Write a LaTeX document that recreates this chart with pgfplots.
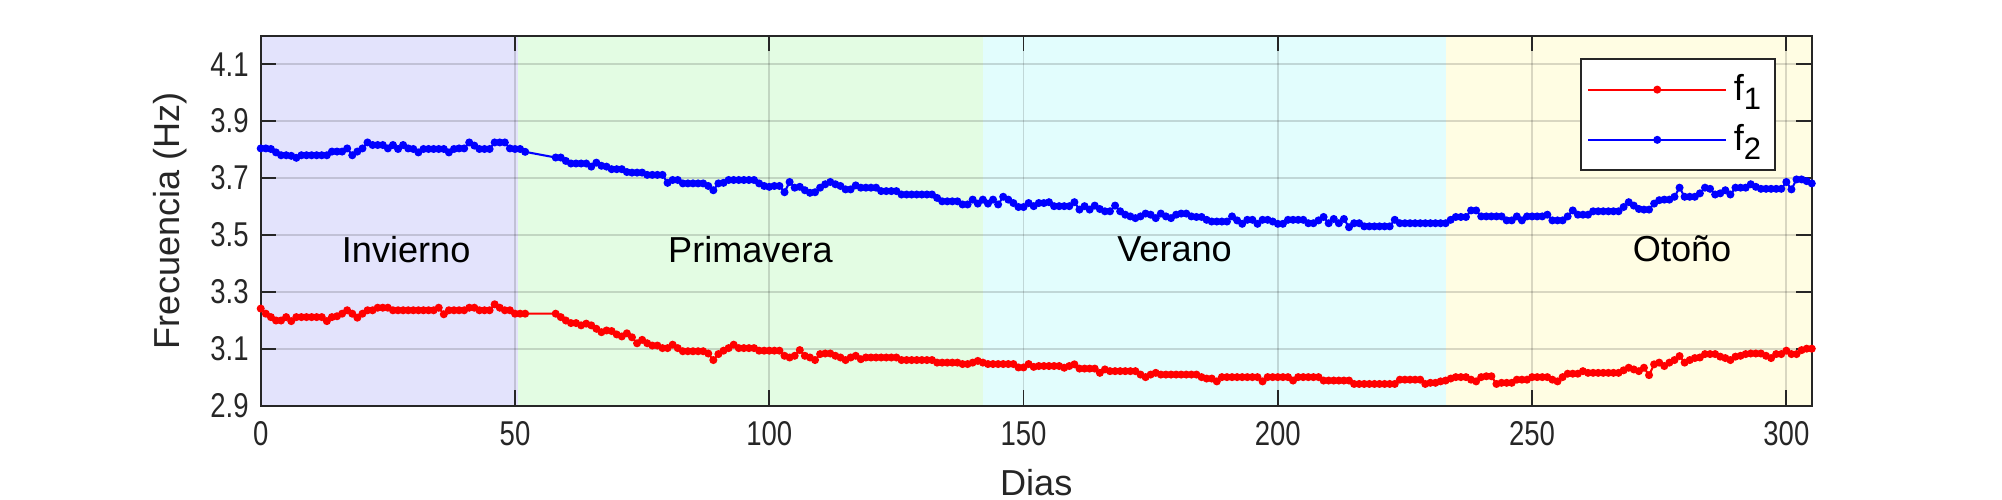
\documentclass[border=0pt]{standalone}
\usepackage{fontspec}
\setmainfont{Liberation Sans}
\newfontfamily\tickfont[FakeStretch=0.8]{Liberation Sans}
\usepackage{pgfplots}
\usepackage{pgfplotstable}
\pgfplotsset{compat=1.18}

\definecolor{cinv}{RGB}{227,227,252}
\definecolor{cpri}{RGB}{227,252,227}
\definecolor{cver}{RGB}{226,253,253}
\definecolor{coto}{RGB}{255,253,227}
\definecolor{axgray}{RGB}{38,38,38}

% d = dia, f1 y f2 en Hz
\pgfplotstableread{
d f1 f2
0 3.241 3.804
1 3.223 3.804
2 3.211 3.802
3 3.199 3.790
4 3.199 3.780
5 3.211 3.780
6 3.197 3.778
7 3.211 3.771
8 3.211 3.780
9 3.211 3.780
10 3.211 3.780
11 3.211 3.780
12 3.211 3.780
13 3.197 3.780
14 3.211 3.793
15 3.214 3.793
16 3.223 3.793
17 3.235 3.804
18 3.223 3.780
19 3.209 3.793
20 3.223 3.804
21 3.235 3.825
22 3.235 3.816
23 3.244 3.816
24 3.244 3.816
25 3.244 3.804
26 3.235 3.816
27 3.235 3.802
28 3.235 3.816
29 3.235 3.804
30 3.235 3.802
31 3.235 3.790
32 3.235 3.802
33 3.235 3.802
34 3.235 3.802
35 3.244 3.802
36 3.221 3.802
37 3.235 3.790
38 3.235 3.802
39 3.235 3.804
40 3.235 3.804
41 3.244 3.825
42 3.244 3.814
43 3.235 3.802
44 3.235 3.802
45 3.235 3.802
46 3.256 3.825
47 3.244 3.825
48 3.235 3.825
49 3.235 3.804
50 3.223 3.802
51 3.223 3.802
52 3.223 3.792
58 3.223 3.772
59 3.211 3.772
60 3.199 3.760
61 3.190 3.751
62 3.190 3.751
63 3.182 3.751
64 3.188 3.751
65 3.182 3.740
66 3.170 3.754
67 3.158 3.743
68 3.164 3.740
69 3.162 3.731
70 3.150 3.731
71 3.143 3.731
72 3.154 3.721
73 3.140 3.719
74 3.119 3.719
75 3.131 3.719
76 3.119 3.711
77 3.111 3.711
78 3.111 3.711
79 3.102 3.711
80 3.102 3.683
81 3.114 3.693
82 3.102 3.693
83 3.091 3.681
84 3.091 3.681
85 3.091 3.681
86 3.091 3.681
87 3.091 3.681
88 3.083 3.672
89 3.060 3.657
90 3.081 3.681
91 3.093 3.683
92 3.102 3.693
93 3.114 3.693
94 3.102 3.693
95 3.102 3.693
96 3.102 3.693
97 3.102 3.693
98 3.093 3.681
99 3.093 3.672
100 3.093 3.669
101 3.093 3.672
102 3.093 3.672
103 3.075 3.650
104 3.069 3.686
105 3.075 3.666
106 3.095 3.669
107 3.075 3.657
108 3.069 3.648
109 3.060 3.650
110 3.081 3.666
111 3.083 3.678
112 3.083 3.686
113 3.075 3.678
114 3.069 3.672
115 3.060 3.660
116 3.069 3.660
117 3.075 3.674
118 3.063 3.666
119 3.069 3.666
120 3.069 3.666
121 3.069 3.666
122 3.069 3.654
123 3.069 3.654
124 3.069 3.654
125 3.069 3.654
126 3.060 3.642
127 3.060 3.642
128 3.060 3.642
129 3.060 3.642
130 3.060 3.642
131 3.060 3.642
132 3.060 3.642
133 3.051 3.630
134 3.051 3.618
135 3.051 3.618
136 3.051 3.618
137 3.051 3.618
138 3.046 3.607
139 3.046 3.607
140 3.051 3.624
141 3.057 3.610
142 3.051 3.624
143 3.046 3.610
144 3.046 3.624
145 3.046 3.607
146 3.046 3.634
147 3.046 3.624
148 3.046 3.612
149 3.034 3.598
150 3.034 3.598
151 3.046 3.612
152 3.036 3.601
153 3.039 3.612
154 3.039 3.612
155 3.039 3.615
156 3.039 3.601
157 3.039 3.601
158 3.033 3.601
159 3.039 3.601
160 3.045 3.615
161 3.030 3.589
162 3.030 3.601
163 3.030 3.589
164 3.030 3.603
165 3.015 3.591
166 3.027 3.583
167 3.021 3.583
168 3.021 3.603
169 3.021 3.583
170 3.021 3.571
171 3.021 3.565
172 3.021 3.559
173 3.009 3.565
174 3.000 3.575
175 3.009 3.571
176 3.015 3.559
177 3.009 3.575
178 3.009 3.565
179 3.009 3.559
180 3.009 3.571
181 3.009 3.575
182 3.009 3.575
183 3.009 3.565
184 3.009 3.563
185 3.000 3.563
186 2.995 3.553
187 2.995 3.547
188 2.985 3.547
189 3.000 3.547
190 3.000 3.547
191 3.000 3.565
192 3.000 3.551
193 3.000 3.539
194 3.000 3.553
195 3.000 3.553
196 3.000 3.539
197 2.985 3.553
198 3.000 3.553
199 3.000 3.547
200 3.000 3.539
201 3.000 3.539
202 3.000 3.553
203 2.988 3.553
204 3.000 3.553
205 3.000 3.553
206 3.000 3.541
207 3.000 3.541
208 3.000 3.551
209 2.988 3.563
210 2.988 3.541
211 2.988 3.556
212 2.988 3.541
213 2.988 3.556
214 2.988 3.527
215 2.976 3.541
216 2.976 3.541
217 2.976 3.530
218 2.976 3.530
219 2.976 3.530
220 2.976 3.530
221 2.976 3.530
222 2.976 3.530
223 2.976 3.553
224 2.991 3.541
225 2.991 3.541
226 2.991 3.541
227 2.991 3.541
228 2.991 3.541
229 2.976 3.541
230 2.980 3.541
231 2.980 3.541
232 2.985 3.541
233 2.988 3.541
234 2.995 3.553
235 3.000 3.563
236 3.000 3.563
237 3.000 3.563
238 2.991 3.586
239 2.985 3.586
240 3.000 3.565
241 3.003 3.565
242 3.003 3.565
243 2.976 3.565
244 2.980 3.565
245 2.980 3.551
246 2.980 3.551
247 2.991 3.565
248 2.991 3.551
249 2.991 3.565
250 3.000 3.565
251 3.000 3.565
252 3.000 3.565
253 3.000 3.571
254 2.991 3.551
255 2.985 3.551
256 3.000 3.551
257 3.012 3.565
258 3.012 3.586
259 3.012 3.571
260 3.021 3.571
261 3.015 3.571
262 3.015 3.583
263 3.015 3.583
264 3.015 3.583
265 3.015 3.583
266 3.015 3.583
267 3.015 3.583
268 3.024 3.598
269 3.033 3.615
270 3.027 3.603
271 3.021 3.591
272 3.033 3.589
273 3.007 3.589
274 3.045 3.610
275 3.051 3.622
276 3.039 3.624
277 3.051 3.624
278 3.060 3.634
279 3.074 3.666
280 3.051 3.634
281 3.060 3.634
282 3.067 3.634
283 3.069 3.646
284 3.081 3.666
285 3.081 3.662
286 3.081 3.642
287 3.072 3.646
288 3.067 3.657
289 3.060 3.642
290 3.072 3.666
291 3.075 3.666
292 3.081 3.666
293 3.083 3.678
294 3.083 3.669
295 3.083 3.662
296 3.075 3.662
297 3.067 3.662
298 3.081 3.662
299 3.081 3.662
300 3.093 3.686
301 3.081 3.660
302 3.081 3.695
303 3.095 3.695
304 3.100 3.689
305 3.100 3.681
}\datatable

\begin{document}
\begin{tikzpicture}
\begin{axis}[
    name=ax,
    set layers,
    scale only axis,
    width=450.9pt,
    height=107.5pt,
    xmin=0, xmax=305,
    ymin=2.9, ymax=4.2,
    xtick={0,50,...,300},
    ytick={2.9,3.1,...,4.15},
    yticklabel style={/pgf/number format/fixed,/pgf/number format/precision=1,/pgf/number format/fixed zerofill},
    xticklabel style={yshift=-1pt},
    /pgf/number format/assume math mode=true,
    tick label style={font=\tickfont\fontsize{10}{11}\selectfont, text=axgray},
    label style={font=\fontsize{10.5}{12}\selectfont, text=axgray},
    xlabel={Dias},
    xlabel style={inner sep=0pt, yshift=-3.5pt},
    ylabel={Frecuencia (Hz)},
    tick align=inside,
    major tick length=4.5pt,
    tick style={axgray, line width=0.5pt},
    axis line style={axgray, line width=0.6pt},
    grid=major,
    major grid style={black, opacity=0.15, line width=0.5pt},
    legend style={at={(1,1)}, anchor=north east, xshift=-10.4pt, yshift=-6.5pt,
        draw=axgray, line width=0.6pt, fill=white,
        font=\fontsize{10.5}{12}\selectfont, inner xsep=2pt, inner ysep=2.3pt,
        row sep=1.5pt},
    legend cell align=left,
    legend image code/.code={\draw[mark repeat=2,mark phase=2] plot coordinates {(0pt,0pt) (20pt,0pt) (40pt,0pt)};},
]
\addplot[draw=none, fill=cinv, on layer=axis background, forget plot] coordinates {(0,2.9) (50.5,2.9) (50.5,4.2) (0,4.2)} -- cycle;
\addplot[draw=none, fill=cpri, on layer=axis background, forget plot] coordinates {(50.5,2.9) (142,2.9) (142,4.2) (50.5,4.2)} -- cycle;
\addplot[draw=none, fill=cver, on layer=axis background, forget plot] coordinates {(142,2.9) (233,2.9) (233,4.2) (142,4.2)} -- cycle;
\addplot[draw=none, fill=coto, on layer=axis background, forget plot] coordinates {(233,2.9) (305,2.9) (305,4.2) (233,4.2)} -- cycle;

\addplot[red, line width=0.6pt, mark=*, mark size=0.85pt] table[x=d, y=f1] {\datatable};
\addlegendentry{f\raisebox{-0.5ex}{\fontsize{9}{9}\selectfont 1}}
\addplot[blue, line width=0.6pt, mark=*, mark size=0.85pt] table[x=d, y=f2] {\datatable};
\addlegendentry{f\raisebox{-0.5ex}{\fontsize{9}{9}\selectfont 2}}

\node[font=\fontsize{10.5}{12}\selectfont] at (axis cs:28.6,3.45) {Invierno};
\node[font=\fontsize{10.5}{12}\selectfont] at (axis cs:96.3,3.45) {Primavera};
\node[font=\fontsize{10.5}{12}\selectfont] at (axis cs:179.7,3.45) {Verano};
\node[font=\fontsize{10.5}{12}\selectfont] at (axis cs:279.5,3.45) {Otoño};
\end{axis}
\path (ax.south west) ++(-75.8pt,-27.4pt) rectangle ++(582pt,145.3pt);
\end{tikzpicture}
\end{document}
